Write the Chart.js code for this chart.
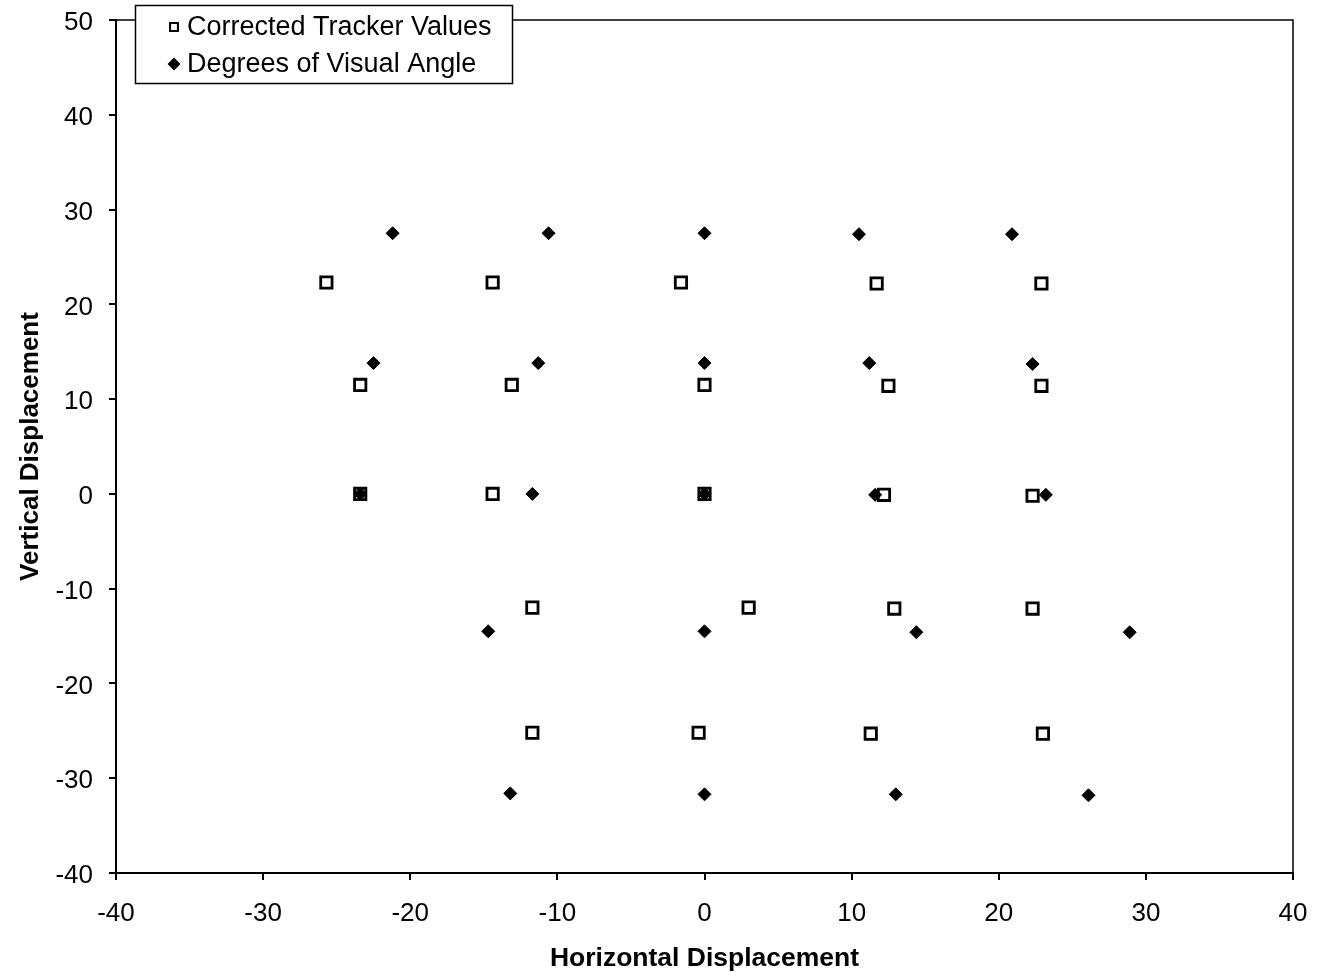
<!DOCTYPE html>
<html>
<head>
<meta charset="utf-8">
<title>Displacement</title>
<script src="https://cdn.jsdelivr.net/npm/chart.js@4/dist/chart.umd.min.js"></script>
<style>
  html, body { margin: 0; padding: 0; background: #fff; }
  canvas { display: block; }
</style>
</head>
<body>
<canvas id="chart" width="1317" height="979"></canvas>
<script>
// Tracker readings after correction (open squares)
const trackerX = [-25.7, -14.4, -1.6, 11.7, 22.9,
                  -23.4, -13.1, 0, 12.5, 22.9,
                  -23.4, -14.4, 0, 12.2, 22.3,
                  -11.7, 3.0, 12.9, 22.3,
                  -11.7, -0.4, 11.3, 23.0];
const trackerY = [22.3, 22.3, 22.3, 22.2, 22.2,
                  11.5, 11.5, 11.5, 11.4, 11.4,
                  0, 0, 0, -0.1, -0.2,
                  -12.0, -12.0, -12.1, -12.1,
                  -25.2, -25.2, -25.3, -25.3];

// Target positions in degrees of visual angle (filled diamonds)
const angleX = [-21.2, -10.6, 0, 10.5, 20.9,
                -22.5, -11.3, 0, 11.2, 22.3,
                -23.4, -11.7, 0, 11.6, 23.2,
                -14.7, 0, 14.4, 28.9,
                -13.2, 0, 13.0, 26.1];
const angleY = [27.5, 27.5, 27.5, 27.4, 27.4,
                13.8, 13.8, 13.8, 13.8, 13.7,
                0, 0, 0, -0.1, -0.1,
                -14.5, -14.5, -14.6, -14.6,
                -31.6, -31.7, -31.7, -31.8];

const seriesNames = ['Corrected Tracker Values', 'Degrees of Visual Angle'];
const xTicks = [-40, -30, -20, -10, 0, 10, 20, 30, 40];
const yTicks = [-40, -30, -20, -10, 0, 10, 20, 30, 40, 50];

const FONT = "'Liberation Sans', Arial, Helvetica, sans-serif";

function toPoints(xs, ys) {
  return xs.map((x, i) => ({ x: x, y: ys[i] }));
}

// Box around the plot area (top and right edges; the axes draw the rest)
const frame = {
  id: 'frame',
  beforeDatasetsDraw(chart) {
    const { ctx, chartArea: a } = chart;
    ctx.save();
    ctx.strokeStyle = '#000';
    ctx.lineWidth = 1.5;
    ctx.beginPath();
    ctx.moveTo(a.left, a.top);
    ctx.lineTo(a.right, a.top);
    ctx.lineTo(a.right, a.bottom);
    ctx.stroke();
    ctx.restore();
  }
};

// Boxed legend sitting over the upper-left corner of the plot
const boxedLegend = {
  id: 'boxedLegend',
  afterDraw(chart) {
    const { ctx } = chart;
    const box = { x: 135, y: 5, w: 377, h: 78 };
    ctx.save();
    ctx.fillStyle = '#fff';
    ctx.fillRect(box.x, box.y, box.w, box.h);
    ctx.strokeStyle = '#000';
    ctx.lineWidth = 1.5;
    ctx.strokeRect(box.x + 0.5, box.y + 0.5, box.w, box.h);
    const rows = [27, 64];
    chart.data.datasets.forEach((ds, i) => {
      const y = rows[i];
      const isRect = ds.pointStyle === 'rect';
      Chart.helpers.drawPoint(ctx, {
        pointStyle: ds.pointStyle,
        radius: isRect ? 5.5 : 5,
        borderWidth: isRect ? 2 : 1
      }, 174, y);
      ctx.fillStyle = ds.pointBackgroundColor;
      ctx.strokeStyle = '#000';
      ctx.lineWidth = isRect ? 2 : 1;
      ctx.fill();
      ctx.stroke();
      ctx.fillStyle = '#000';
      ctx.font = '27px ' + FONT;
      ctx.textAlign = 'left';
      ctx.textBaseline = 'middle';
      ctx.fillText(ds.label, 187, y + 1);
    });
    ctx.restore();
  }
};

const axisCommon = {
  type: 'linear',
  grid: {
    display: true,
    drawOnChartArea: false,
    drawTicks: true,
    tickLength: 7,
    color: '#000',
    lineWidth: 2
  },
  border: { display: true, color: '#000', width: 2 }
};

new Chart(document.getElementById('chart'), {
  type: 'scatter',
  data: {
    datasets: [
      {
        label: seriesNames[0],
        data: toPoints(trackerX, trackerY),
        pointStyle: 'rect',
        pointRadius: 8,
        pointHoverRadius: 8,
        pointBorderWidth: 2.8,
        pointBackgroundColor: '#fff',
        pointBorderColor: '#000',
        order: 2
      },
      {
        label: seriesNames[1],
        data: toPoints(angleX, angleY),
        pointStyle: 'rectRot',
        pointRadius: 6.5,
        pointHoverRadius: 6.5,
        pointBorderWidth: 1,
        pointBackgroundColor: '#000',
        pointBorderColor: '#000',
        order: 1
      }
    ]
  },
  options: {
    responsive: false,
    devicePixelRatio: 1,
    animation: false,
    events: [],
    layout: { padding: { top: 20, right: 24, left: 0, bottom: 0 } },
    plugins: {
      legend: { display: false },
      tooltip: { enabled: false }
    },
    scales: {
      x: Object.assign({}, axisCommon, {
        position: 'bottom',
        min: xTicks[0],
        max: xTicks[xTicks.length - 1],
        afterBuildTicks(scale) { scale.ticks = xTicks.map(v => ({ value: v })); },
        afterFit(scale) {
          scale.height = 106;
          scale.paddingLeft = 0;
          scale.paddingRight = 0;
        },
        ticks: {
          color: '#000',
          font: { family: FONT, size: 26 },
          padding: 18,
          maxRotation: 0
        },
        title: {
          display: true,
          text: 'Horizontal Displacement',
          color: '#000',
          font: { family: FONT, size: 26.5, weight: 'bold' },
          padding: { top: 0, bottom: 4 }
        }
      }),
      y: Object.assign({}, axisCommon, {
        position: 'left',
        min: yTicks[0],
        max: yTicks[yTicks.length - 1],
        afterBuildTicks(scale) { scale.ticks = yTicks.map(v => ({ value: v })); },
        afterFit(scale) {
          scale.width = 116;
          scale.paddingTop = 0;
          scale.paddingBottom = 0;
        },
        ticks: {
          color: '#000',
          font: { family: FONT, size: 26 },
          padding: 16,
          labelOffset: 3
        },
        title: {
          display: true,
          text: 'Vertical Displacement',
          color: '#000',
          font: { family: FONT, size: 26, weight: 'bold' },
          padding: { top: 15, bottom: 0 }
        }
      })
    }
  },
  plugins: [frame, boxedLegend]
});
</script>
</body>
</html>
